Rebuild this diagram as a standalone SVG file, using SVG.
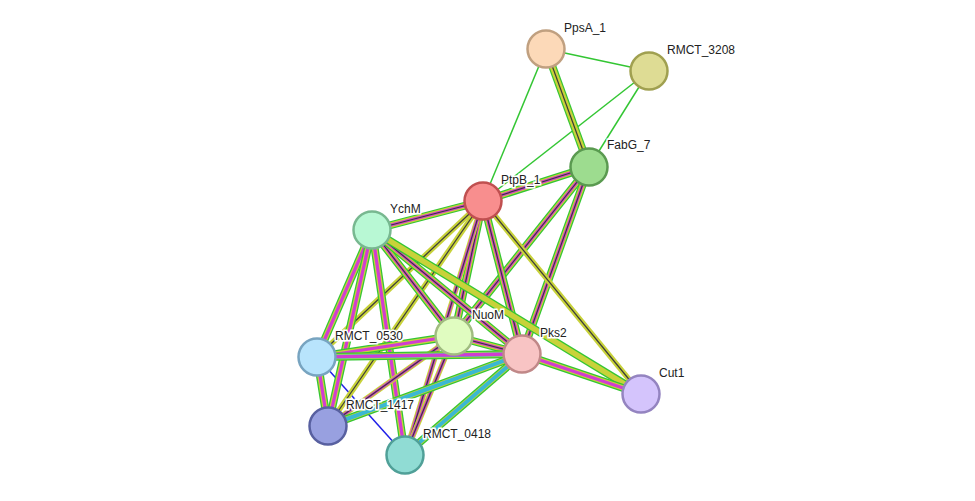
<svg xmlns="http://www.w3.org/2000/svg" xmlns:xlink="http://www.w3.org/1999/xlink" width="975" height="501" viewBox="0 0 975 501">
<style>
.a{fill:none;stroke:#33c633;stroke-width:8}
.b{fill:none;stroke:#c8d23a;stroke-width:5.5}
.c{fill:none;stroke:#d23cd2;stroke-width:3.2}
.d{fill:none;stroke:#3a3a3a;stroke-width:1.2}
.e{fill:none;stroke:#3ab8d2;stroke-width:4}
.s{fill:none;stroke:#33c633;stroke-width:1.5}
.bl{fill:none;stroke:#2020e8;stroke-width:1.5}
circle{stroke-width:2.5}
text{font-family:"Liberation Sans",Arial,sans-serif;font-size:12px;fill:#222;paint-order:stroke;stroke:#fff;stroke-width:3px}
</style>
<rect width="975" height="501" fill="#fff"/>
<defs>
<path id="e1" d="M546,49L589,167"/>
<path id="e2" d="M589,167L483,201"/>
<path id="e3" d="M589,167L454,336"/>
<path id="e4" d="M589,167L522,354"/>
<path id="e5" d="M483,201L372,230"/>
<path id="e6" d="M483,201L454,336"/>
<path id="e7" d="M483,201L522,354"/>
<path id="e8" d="M483,201L641,394"/>
<path id="e9" d="M483,201L317,357"/>
<path id="e10" d="M483,201L328,426"/>
<path id="e11" d="M483,201L405,455"/>
<path id="e12" d="M372,230L454,336"/>
<path id="e13" d="M372,230L522,354"/>
<path id="e14" d="M372,230L641,394"/>
<path id="e15" d="M372,230L317,357"/>
<path id="e16" d="M372,230L328,426"/>
<path id="e17" d="M372,230L405,455"/>
<path id="e18" d="M454,336L522,354"/>
<path id="e19" d="M454,336L317,357"/>
<path id="e20" d="M454,336L328,426"/>
<path id="e21" d="M454,336L405,455"/>
<path id="e22" d="M522,354L317,357"/>
<path id="e23" d="M522,354L328,426"/>
<path id="e24" d="M522,354L405,455"/>
<path id="e25" d="M522,354L641,394"/>
<path id="e26" d="M317,357L328,426"/>
</defs>
<g id="connectors">
<line class="s" x1="546" y1="49" x2="649" y2="71"/>
<line class="s" x1="546" y1="49" x2="483" y2="201"/>
<line class="s" x1="649" y1="71" x2="483" y2="201"/>
<line class="s" x1="649" y1="71" x2="589" y2="167"/>
<line class="bl" x1="317" y1="357" x2="405" y2="455"/>
<g><use href="#e1" class="a"/><use href="#e1" class="b"/><use href="#e1" class="d"/></g>
<g><use href="#e2" class="a"/><use href="#e2" class="b"/><use href="#e2" class="c"/><use href="#e2" class="d"/></g>
<g><use href="#e3" class="a"/><use href="#e3" class="b"/><use href="#e3" class="c"/><use href="#e3" class="d"/></g>
<g><use href="#e4" class="a"/><use href="#e4" class="b"/><use href="#e4" class="c"/><use href="#e4" class="d"/></g>
<g><use href="#e5" class="a"/><use href="#e5" class="b"/><use href="#e5" class="c"/><use href="#e5" class="d"/></g>
<g><use href="#e6" class="a"/><use href="#e6" class="b"/><use href="#e6" class="c"/><use href="#e6" class="d"/></g>
<g><use href="#e7" class="a"/><use href="#e7" class="b"/><use href="#e7" class="c"/><use href="#e7" class="d"/></g>
<g><use href="#e8" class="b"/><use href="#e8" class="d"/></g>
<g><use href="#e9" class="b"/><use href="#e9" class="d"/></g>
<g><use href="#e10" class="b"/><use href="#e10" class="d"/></g>
<g><use href="#e11" class="b"/><use href="#e11" class="c"/><use href="#e11" class="d"/></g>
<g><use href="#e12" class="a"/><use href="#e12" class="b"/><use href="#e12" class="c"/><use href="#e12" class="d"/></g>
<g><use href="#e13" class="a"/><use href="#e13" class="b"/><use href="#e13" class="c"/><use href="#e13" class="d"/></g>
<g><use href="#e14" class="a"/><use href="#e14" class="b"/></g>
<g><use href="#e15" class="a"/><use href="#e15" class="b"/><use href="#e15" class="c"/></g>
<g><use href="#e16" class="a"/><use href="#e16" class="b"/><use href="#e16" class="c"/></g>
<g><use href="#e17" class="a"/><use href="#e17" class="b"/><use href="#e17" class="c"/></g>
<g><use href="#e18" class="a"/><use href="#e18" class="b"/><use href="#e18" class="c"/><use href="#e18" class="d"/></g>
<g><use href="#e19" class="a"/><use href="#e19" class="b"/><use href="#e19" class="c"/></g>
<g><use href="#e20" class="b"/><use href="#e20" class="c"/><use href="#e20" class="d"/></g>
<g><use href="#e21" class="b"/><use href="#e21" class="c"/><use href="#e21" class="d"/></g>
<g><use href="#e22" class="a"/><use href="#e22" class="b"/><use href="#e22" class="e"/><use href="#e22" class="c"/></g>
<g><use href="#e23" class="a"/><use href="#e23" class="b"/><use href="#e23" class="e"/></g>
<g><use href="#e24" class="a"/><use href="#e24" class="b"/><use href="#e24" class="e"/></g>
<g><use href="#e25" class="a"/><use href="#e25" class="b"/><use href="#e25" class="c"/></g>
<g><use href="#e26" class="a"/><use href="#e26" class="b"/><use href="#e26" class="c"/></g>
</g>
<g id="PpsA_1"><circle cx="546" cy="49" r="18.5" fill="#fcd9b8" stroke="#c0a080"/><text x="564" y="32">PpsA_1</text></g>
<g id="RMCT_3208"><circle cx="649" cy="71" r="18.5" fill="#dedc94" stroke="#a0a050"/><text x="667" y="54">RMCT_3208</text></g>
<g id="FabG_7"><circle cx="589" cy="167" r="18.5" fill="#9ddc8f" stroke="#5a9a50"/><text x="607" y="149">FabG_7</text></g>
<g id="PtpB_1"><circle cx="483" cy="201" r="18.5" fill="#f88e8e" stroke="#c05050"/><text x="501" y="184">PtpB_1</text></g>
<g id="YchM"><circle cx="372" cy="230" r="18.5" fill="#b8f8d4" stroke="#78b890"/><text x="390" y="213">YchM</text></g>
<g id="NuoM"><circle cx="454" cy="336" r="18.5" fill="#e0fcc0" stroke="#a0bc80"/><text x="472" y="319">NuoM</text></g>
<g id="Pks2"><circle cx="522" cy="354" r="18.5" fill="#f8c4c4" stroke="#c08888"/><text x="540" y="337">Pks2</text></g>
<g id="RMCT_0530"><circle cx="317" cy="357" r="18.5" fill="#b8e4fc" stroke="#78a4c0"/><text x="335" y="340">RMCT_0530</text></g>
<g id="Cut1"><circle cx="641" cy="394" r="18.5" fill="#d4c4fc" stroke="#9484c0"/><text x="659" y="377">Cut1</text></g>
<g id="RMCT_1417"><circle cx="328" cy="426" r="18.5" fill="#98a0e0" stroke="#5860a0"/><text x="346" y="409">RMCT_1417</text></g>
<g id="RMCT_0418"><circle cx="405" cy="455" r="18.5" fill="#90dcd4" stroke="#50a098"/><text x="423" y="438">RMCT_0418</text></g>
</svg>
